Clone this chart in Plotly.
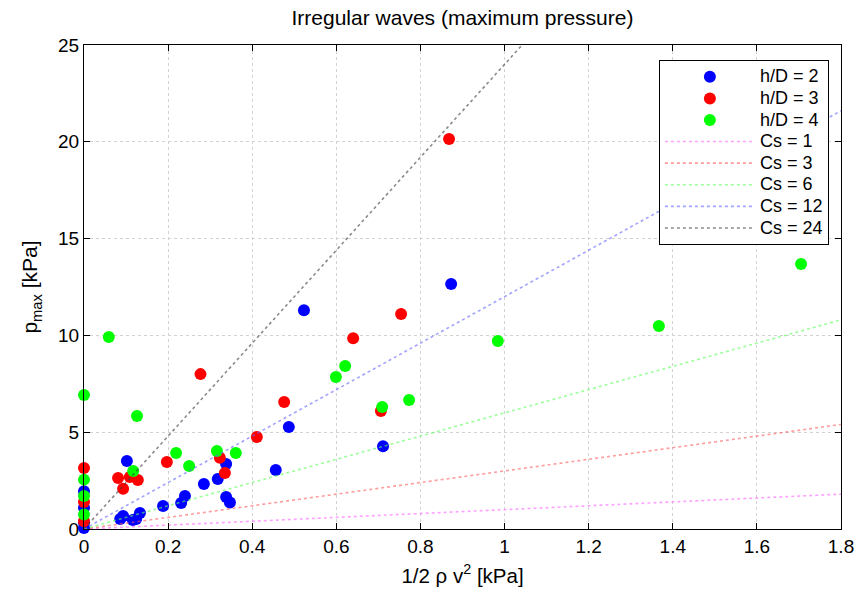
import plotly.graph_objects as go

# h/D = 2 (blue)
x_hd2 = [0.873, 0.523, 0.487, 0.711, 0.456, 0.102, 0.338, 0.318, 0.285, 0.240, 0.231,
         0.188, 0.338, 0.347, 0.133, 0.086, 0.093, 0.116, 0.124, 0.0, 0.0, 0.0, 0.0]
y_hd2 = [12.65, 11.3, 5.27, 4.27, 3.05, 3.51, 3.36, 2.58, 2.32, 1.70, 1.34,
         1.19, 1.65, 1.37, 0.83, 0.52, 0.67, 0.46, 0.52, 1.95, 1.1, 0.35, 0.05]

# h/D = 3 (red)
x_hd3 = [0.868, 0.754, 0.640, 0.706, 0.476, 0.277, 0.411, 0.197, 0.323, 0.335,
         0.081, 0.109, 0.093, 0.128, 0.0, 0.0, 0.0]
y_hd3 = [20.15, 11.1, 9.85, 6.1, 6.56, 8.0, 4.75, 3.46, 3.68, 2.89,
         2.63, 2.69, 2.08, 2.53, 3.15, 1.4, 0.4]

# h/D = 4 (green)
x_hd4 = [1.705, 1.367, 0.984, 0.621, 0.599, 0.773, 0.709, 0.059, 0.0, 0.126,
         0.219, 0.250, 0.316, 0.361, 0.117, 0.0, 0.0, 0.0]
y_hd4 = [13.69, 10.49, 9.71, 8.42, 7.85, 6.66, 6.30, 9.92, 6.92, 5.84,
         3.93, 3.25, 4.03, 3.93, 3.0, 2.55, 1.7, 0.75]

cs_values = [1, 3, 6, 12, 24]
cs_colors = ["rgba(255,100,255,0.6)", "rgba(255,90,90,0.6)", "rgba(90,255,90,0.6)",
             "rgba(100,100,255,0.6)", "rgba(60,60,60,0.6)"]
x_line = [0.0, 1.8]

x_ticks = [0, 0.2, 0.4, 0.6, 0.8, 1, 1.2, 1.4, 1.6, 1.8]
x_ticklabels = ["0", "0.2", "0.4", "0.6", "0.8", "1", "1.2", "1.4", "1.6", "1.8"]
y_ticks = [0, 5, 10, 15, 20, 25]


def leg(txt):
    return f'<span style="font-size:18px">{txt}</span>'


fig = go.Figure()
for name, xs, ys, col in [("h/D = 2", x_hd2, y_hd2, "#0000ff"),
                          ("h/D = 3", x_hd3, y_hd3, "#ff0000"),
                          ("h/D = 4", x_hd4, y_hd4, "#00ff00")]:
    fig.add_trace(go.Scatter(x=xs, y=ys, mode="markers", name=leg(name),
                             marker=dict(color=col, size=12, line=dict(width=0)),
                             cliponaxis=False))

for cs, col in zip(cs_values, cs_colors):
    fig.add_trace(go.Scatter(x=x_line, y=[cs * v for v in x_line], mode="lines",
                             name=leg(f"Cs = {cs}"),
                             line=dict(color=col, width=1.6, dash="dot")))

font_family = "Liberation Sans, Arial, sans-serif"
fig.update_layout(
    width=858, height=597,
    margin=dict(l=84, r=17, t=45, b=68),
    plot_bgcolor="white", paper_bgcolor="white",
    font=dict(family=font_family, color="black", size=19),
    title=dict(text="Irregular waves (maximum pressure)", x=0.539, xanchor="center",
               y=0.97, yanchor="middle", font=dict(size=21)),
    showlegend=True,
    legend=dict(x=0.984, xanchor="right", y=0.969, yanchor="top",
                bgcolor="white", bordercolor="black", borderwidth=1,
                font=dict(size=14.3), tracegroupgap=0, itemwidth=90),
    xaxis=dict(range=[0, 1.8], tickvals=x_ticks, ticktext=x_ticklabels,
               showline=True, linecolor="black", linewidth=1, mirror="allticks",
               ticks="inside", ticklen=6, tickcolor="black",
               showgrid=True, gridcolor="#d2d2d2", griddash="dot", gridwidth=1,
               zeroline=False, automargin=False,
               title=dict(text="1/2 \u03c1 v<sup>2</sup> [kPa]", standoff=12,
                          font=dict(size=20.5)),
               tickfont=dict(size=19)),
    yaxis=dict(range=[0, 25], tickvals=y_ticks,
               showline=True, linecolor="black", linewidth=1, mirror="allticks",
               ticks="inside", ticklen=6, tickcolor="black",
               showgrid=True, gridcolor="#d2d2d2", griddash="dot", gridwidth=1,
               zeroline=False, automargin=False,
               title=dict(text="p<sub>max</sub> [kPa]", standoff=14,
                          font=dict(size=21)),
               tickfont=dict(size=19)),
)

fig.write_html("out.html")
